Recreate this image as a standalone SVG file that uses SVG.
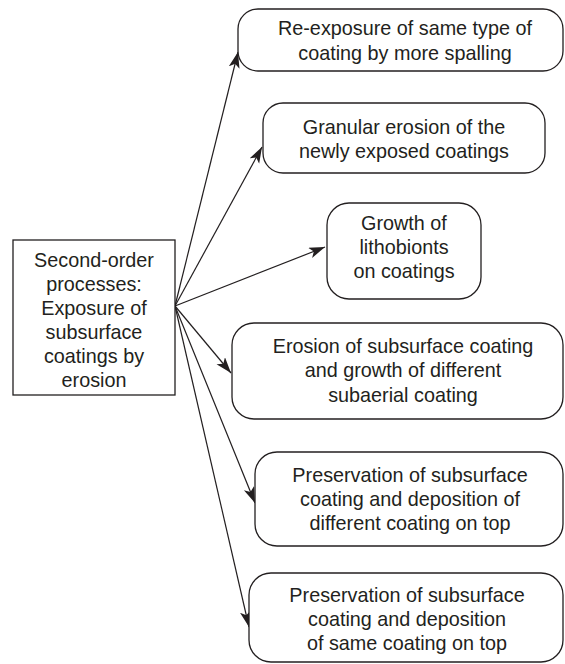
<svg xmlns="http://www.w3.org/2000/svg" width="565" height="664" viewBox="0 0 565 664">
<style>
.box{fill:#fff;stroke:#231f20;stroke-width:1.3}
.t{font-family:"Liberation Sans",Arial,sans-serif;font-size:19.8px;fill:#231f20;text-anchor:middle}
.c{stroke:#231f20;stroke-width:1.2;fill:none;marker-end:url(#ah)}
</style>
<defs>
<marker id="ah" markerUnits="userSpaceOnUse" markerWidth="18" markerHeight="12" refX="16" refY="5.5" orient="auto">
<path d="M0,0 L16,5.5 L0,11 L4,5.5 z" fill="#231f20"/>
</marker>
</defs>
<rect width="565" height="664" fill="#fff"/>
<g id="connectors">
<line class="c" x1="175" y1="306" x2="238" y2="52"/>
<line class="c" x1="175" y1="306" x2="262" y2="147"/>
<line class="c" x1="175" y1="306" x2="325" y2="247"/>
<line class="c" x1="175" y1="306" x2="231" y2="373"/>
<line class="c" x1="175" y1="306" x2="255" y2="503"/>
<line class="c" x1="175" y1="306" x2="249" y2="627"/>
</g>
<g id="source">
<rect class="box" x="13" y="240" width="162" height="155"/>
<text class="t"><tspan x="94" y="267">Second-order</tspan><tspan x="94" y="291">processes:</tspan><tspan x="94" y="315">Exposure of</tspan><tspan x="94" y="339">subsurface</tspan><tspan x="94" y="363">coatings by</tspan><tspan x="94" y="387">erosion</tspan></text>
</g>
<g id="n1">
<rect class="box" x="238" y="9" width="325" height="62" rx="20"/>
<text class="t"><tspan x="405" y="35">Re-exposure of same type of</tspan><tspan x="405" y="60">coating by more spalling</tspan></text>
</g>
<g id="n2">
<rect class="box" x="263" y="103" width="282" height="70" rx="20"/>
<text class="t"><tspan x="404" y="134">Granular erosion of the</tspan><tspan x="404" y="158">newly exposed coatings</tspan></text>
</g>
<g id="n3">
<rect class="box" x="327" y="203" width="154" height="96" rx="22"/>
<text class="t"><tspan x="404" y="230">Growth of</tspan><tspan x="404" y="254">lithobionts</tspan><tspan x="404" y="278">on coatings</tspan></text>
</g>
<g id="n4">
<rect class="box" x="232" y="323" width="331" height="96" rx="22"/>
<text class="t"><tspan x="403" y="353">Erosion of subsurface coating</tspan><tspan x="403" y="377">and growth of different</tspan><tspan x="403" y="402">subaerial coating</tspan></text>
</g>
<g id="n5">
<rect class="box" x="255" y="452" width="308" height="94" rx="22"/>
<text class="t"><tspan x="410" y="482">Preservation of subsurface</tspan><tspan x="410" y="506">coating and deposition of</tspan><tspan x="410" y="530">different coating on top</tspan></text>
</g>
<g id="n6">
<rect class="box" x="249" y="573" width="314" height="89" rx="22"/>
<text class="t"><tspan x="407" y="602">Preservation of subsurface</tspan><tspan x="407" y="626">coating and deposition</tspan><tspan x="407" y="650">of same coating on top</tspan></text>
</g>
</svg>
